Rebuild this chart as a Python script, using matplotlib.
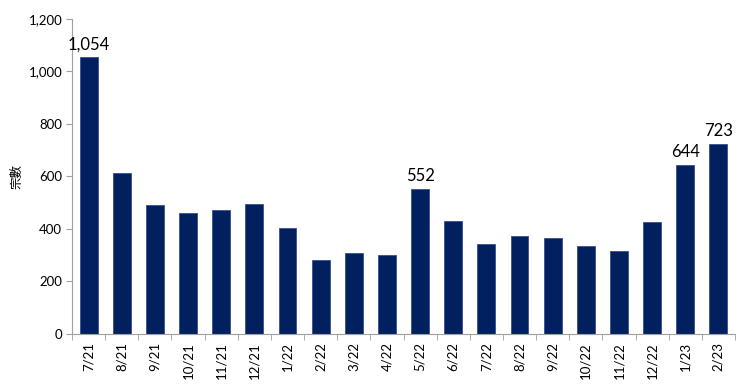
import matplotlib
matplotlib.use('Agg')
import matplotlib.pyplot as plt
import numpy as np

plt.rcParams['font.family'] = ['Lato', 'Noto Sans CJK TC', 'DejaVu Sans']

# Données
months = ['7/21', '8/21', '9/21', '10/21', '11/21', '12/21', '1/22', '2/22', '3/22', '4/22',
          '5/22', '6/22', '7/22', '8/22', '9/22', '10/22', '11/22', '12/22', '1/23', '2/23']
counts = [1054, 615, 492, 459, 472, 497, 402, 282, 307, 299,
          552, 432, 343, 374, 365, 337, 317, 425, 644, 723]
labelled = {0: '1,054', 10: '552', 18: '644', 19: '723'}

fig = plt.figure(figsize=(7.5, 3.87), dpi=100)
ax = fig.add_axes([0.096, 0.137, 0.884, 0.814])

x = np.arange(len(months))
ax.bar(x, counts, width=0.54, color='#002060', edgecolor='#3a4f8a', linewidth=0.6)

for i, txt in labelled.items():
    ax.text(x[i], counts[i] + 18, txt, ha='center', va='bottom', fontsize=12, color='black')

ax.set_xlim(-0.5, len(months) - 0.5)
ax.set_ylim(0, 1200)
ax.set_yticks(range(0, 1201, 200))
ax.set_yticklabels([f'{v:,}' for v in range(0, 1201, 200)], fontsize=9.5)
ax.set_xticks(x)
ax.set_xticklabels(months, rotation=90, fontsize=9.5)
ax.set_xticks(np.arange(-0.5, len(months), 1), minor=True)
ax.tick_params(axis='x', which='major', length=0, pad=6)
ax.tick_params(axis='x', which='minor', length=4, color='#a0a0a0')
ax.tick_params(axis='y', length=4, color='#a0a0a0', pad=3)

for s in ['top', 'right']:
    ax.spines[s].set_visible(False)
for s in ['left', 'bottom']:
    ax.spines[s].set_color('#a0a0a0')
    ax.spines[s].set_linewidth(0.8)

ax.set_ylabel('宗數', fontsize=9)
ax.yaxis.set_label_coords(-0.075, 0.5)

fig.savefig('out.png', dpi=100)
